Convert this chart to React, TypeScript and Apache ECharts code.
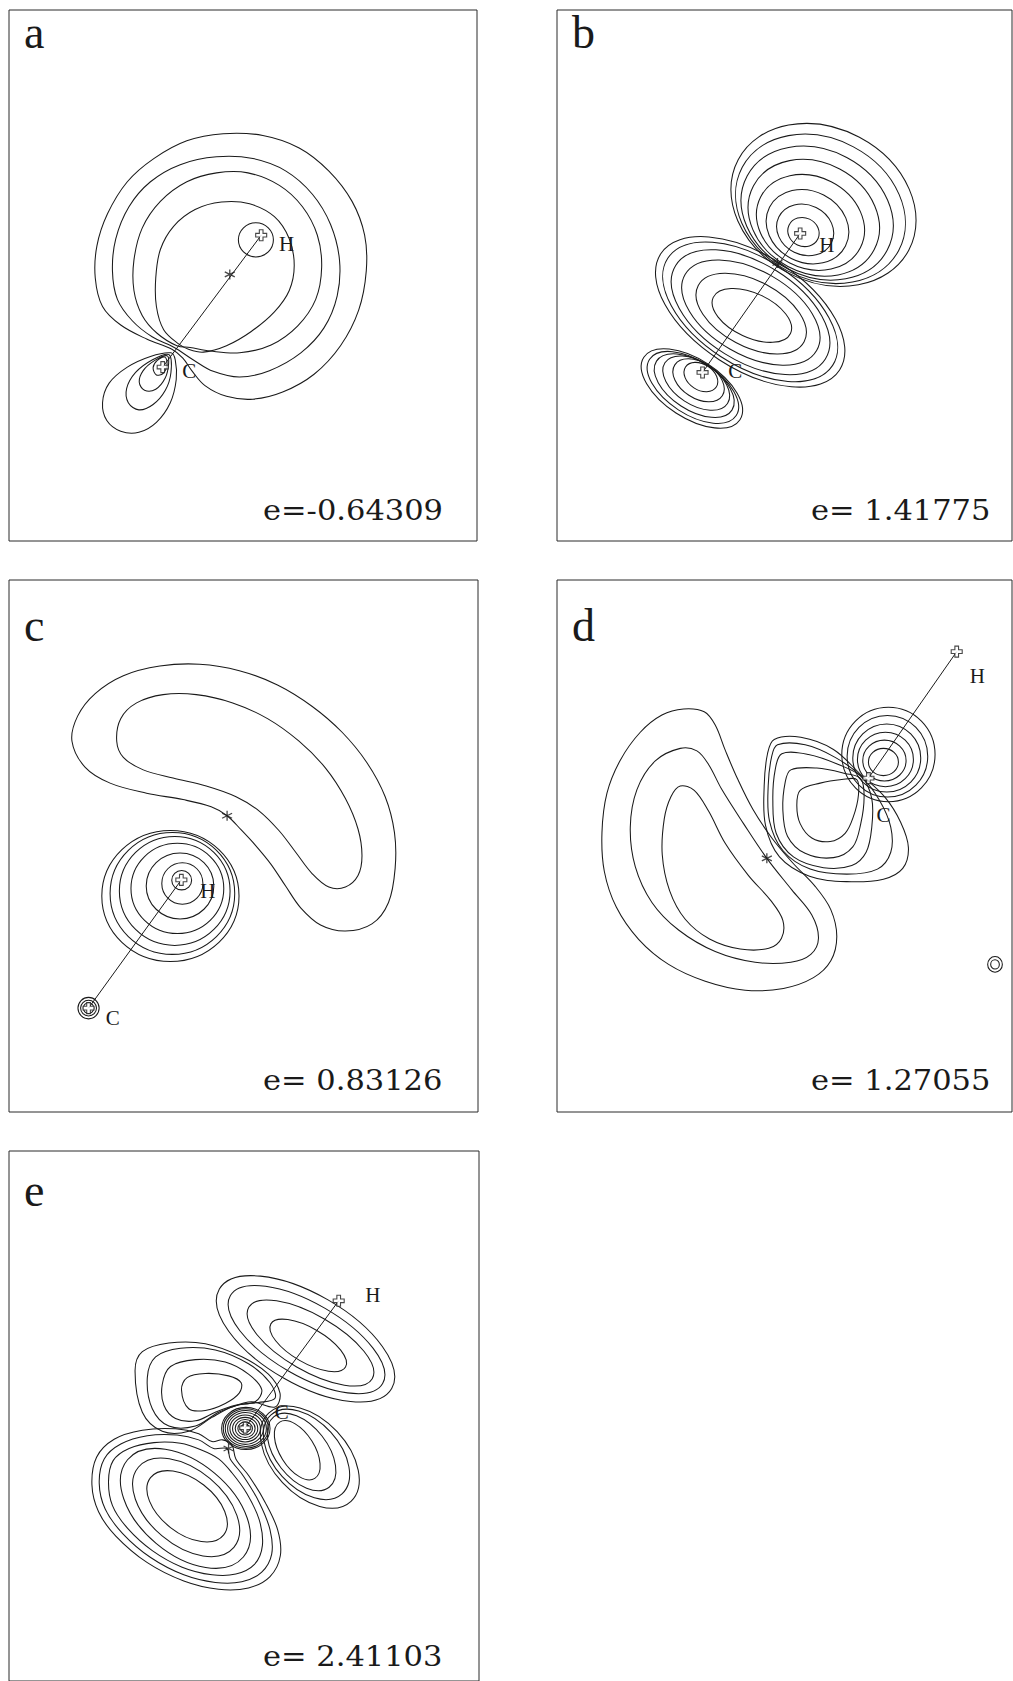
import React, { useEffect, useRef } from "react";
import * as echarts from "echarts";

type Pt = [number, number];
// cx, cy, rx, ry, tilt in degrees (clockwise on screen)
type Ring = [number, number, number, number, number];
type Label = [number, number, string];

const INK = "#1a1a1a";

const panelLetters = ["a", "b", "c", "d", "e"];
const orbitalEnergies = ["-0.64309", "1.41775", "0.83126", "1.27055", "2.41103"];

// ---------------- orbital a ----------------
const aCurves: Pt[][] = [
  [[515, 980], [440, 952], [360, 912], [305, 860], [283, 780], [288, 690], [320, 600], [380, 510], [460, 445], [560, 395], [670, 375], [790, 380], [900, 415], [990, 480], [1060, 565], [1098, 660], [1103, 760], [1080, 870], [1025, 970], [945, 1050], [850, 1100], [760, 1120], [680, 1112], [615, 1082], [575, 1040], [548, 1005]],
  [[522, 975], [455, 945], [395, 900], [350, 840], [335, 760], [345, 670], [385, 580], [450, 510], [540, 462], [650, 440], [760, 445], [860, 480], [940, 545], [995, 630], [1022, 730], [1015, 830], [975, 920], [905, 990], [810, 1040], [720, 1058], [640, 1042], [580, 1010]],
  [[530, 970], [470, 935], [425, 885], [400, 815], [400, 730], [425, 640], [480, 565], [560, 510], [650, 485], [745, 485], [840, 520], [910, 580], [955, 660], [968, 750], [950, 840], [895, 915], [815, 968], [720, 990], [630, 985], [570, 975]],
  [[535, 965], [490, 925], [468, 860], [466, 780], [480, 700], [520, 635], [585, 588], [665, 567], [750, 572], [825, 608], [870, 670], [885, 745], [870, 815], [825, 875], [755, 930], [680, 970], [610, 988], [565, 980]],
  [[512, 990], [450, 1000], [380, 1030], [325, 1075], [305, 1130], [318, 1180], [360, 1210], [415, 1213], [468, 1185], [510, 1130], [528, 1065], [525, 1010]],
  [[506, 995], [455, 1010], [405, 1045], [378, 1090], [383, 1130], [415, 1150], [458, 1135], [495, 1095], [512, 1045]],
  [[500, 998], [462, 1012], [428, 1040], [416, 1072], [432, 1095], [466, 1092], [495, 1060], [505, 1020]],
  [[494, 1002], [470, 1012], [458, 1032], [468, 1052], [488, 1048], [500, 1025]],
];
const aRings: Ring[] = [[769, 673, 53, 48, 0]];
const aAtoms: Pt[] = [[785, 660], [487, 1030]];
const aStar: Pt[] = [[690, 770]];
const aLabels: Label[] = [[862, 685, "H"], [567, 1040, "C"]];

// ---------------- orbital b ----------------
const bCurves: Pt[][] = [];
const bRings: Ring[] = [
  // lobe around H
  [790, 651, 48, 40, 25], [795, 645, 88, 70, 26], [802, 636, 128, 100, 27], [811, 624, 168, 128, 27],
  [821, 611, 205, 155, 28], [831, 598, 238, 177, 28], [841, 586, 266, 197, 28], [850, 575, 290, 215, 28],
  // lobe across the bond
  [635, 885, 128, 62, 25], [633, 880, 180, 92, 28], [632, 877, 228, 118, 30], [631, 876, 265, 137, 32],
  [630, 875, 295, 150, 33], [630, 875, 320, 160, 33],
  // lobe behind C
  [482, 1058, 55, 36, 33], [475, 1067, 85, 50, 33], [468, 1075, 112, 60, 33], [462, 1082, 135, 68, 33],
  [458, 1087, 155, 75, 33], [455, 1090, 172, 82, 33],
];
const bAtoms: Pt[] = [[780, 655], [487, 1045]];
const bStar: Pt[] = [[712, 738]];
const bLabels: Label[] = [[860, 688, "H"], [585, 1040, "C"]];

// ---------------- orbital c ----------------
const cCurves: Pt[][] = [
  [[215, 495], [232, 425], [285, 362], [370, 312], [480, 285], [600, 280], [720, 298], [835, 338], [940, 398], [1030, 470], [1105, 555], [1160, 650], [1188, 750], [1190, 850], [1170, 945], [1120, 1005], [1040, 1025], [965, 1008], [905, 960], [860, 900], [815, 838], [768, 785], [725, 742], [683, 703], [635, 678], [550, 658], [440, 640], [330, 612], [255, 568]],
  [[350, 495], [362, 432], [410, 388], [490, 365], [590, 365], [700, 388], [805, 432], [900, 495], [980, 570], [1040, 655], [1078, 740], [1090, 815], [1078, 870], [1040, 902], [990, 902], [940, 865], [890, 805], [840, 745], [780, 690], [710, 650], [620, 620], [520, 598], [430, 575], [370, 540]],
];
const cRings: Ring[] = [
  [546, 883, 30, 27, 0], [548, 892, 62, 58, 0], [541, 899, 102, 92, 0], [533, 906, 140, 126, 0],
  [525, 913, 167, 152, 0], [518, 920, 188, 170, 0], [512, 927, 207, 183, 0],
  [265, 1240, 32, 30, 0], [265, 1240, 24, 22, 0], [265, 1240, 16, 15, 0],
];
const cAtoms: Pt[] = [[545, 882], [265, 1240]];
const cStar: Pt[] = [[683, 703]];
const cLabels: Label[] = [[625, 912, "H"], [338, 1268, "C"]];

// ---------------- orbital d ----------------
const dCurves: Pt[][] = [
  [[430, 405], [492, 413], [525, 450], [555, 520], [592, 600], [638, 685], [695, 765], [758, 835], [825, 900], [872, 965], [890, 1040], [872, 1108], [820, 1155], [730, 1185], [615, 1190], [495, 1165], [385, 1118], [295, 1048], [228, 958], [192, 858], [185, 750], [200, 640], [240, 548], [300, 470], [365, 422]],
  [[420, 515], [470, 522], [505, 560], [545, 630], [610, 725], [680, 822], [755, 910], [815, 980], [835, 1045], [812, 1090], [752, 1112], [645, 1112], [525, 1082], [415, 1022], [335, 945], [285, 845], [270, 735], [290, 630], [345, 550]],
  [[420, 620], [462, 632], [505, 690], [555, 780], [625, 870], [692, 940], [728, 995], [724, 1045], [686, 1073], [600, 1075], [508, 1047], [435, 992], [388, 912], [366, 812], [372, 712], [392, 650]],
  [[780, 632], [840, 612], [905, 602], [950, 602], [955, 645], [940, 705], [915, 752], [870, 775], [815, 765], [780, 725], [770, 675]],
  [[752, 575], [830, 570], [915, 585], [962, 600], [972, 650], [962, 725], [938, 790], [880, 820], [795, 808], [742, 760], [728, 685], [735, 610]],
  [[725, 530], [805, 532], [895, 560], [965, 595], [995, 655], [995, 735], [978, 805], [935, 842], [850, 848], [760, 818], [708, 752], [698, 660], [705, 575]],
  [[712, 505], [795, 505], [885, 540], [962, 592], [1018, 660], [1052, 735], [1052, 805], [1012, 852], [920, 866], [810, 852], [728, 800], [688, 718], [684, 620], [694, 540]],
  [[702, 490], [782, 484], [880, 518], [962, 588], [1035, 652], [1082, 722], [1105, 792], [1088, 850], [1030, 880], [920, 887], [808, 872], [718, 818], [676, 730], [672, 620], [682, 530]],
];
const dRings: Ring[] = [
  [1030, 553, 45, 38, 0], [1033, 549, 65, 57, 0], [1036, 546, 84, 76, 0], [1040, 542, 102, 95, 0],
  [1042, 537, 121, 114, 0], [1045, 532, 140, 132, 0],
  [1365, 1118, 22, 22, 0], [1365, 1118, 13, 13, 0],
];
const dAtoms: Pt[] = [[1250, 245], [985, 598]];
const dStar: Pt[] = [[680, 822]];
const dLabels: Label[] = [[1312, 312, "H"], [1030, 700, "C"]];

// ---------------- orbital e ----------------
const eCurves: Pt[][] = [
  [[548, 735], [565, 700], [620, 688], [690, 695], [728, 715], [722, 745], [680, 775], [620, 795], [570, 790]],
  [[490, 720], [515, 668], [590, 648], [680, 655], [750, 690], [790, 735], [770, 770], [710, 780], [650, 800], [590, 825], [530, 818], [495, 780]],
  [[445, 700], [470, 640], [545, 615], [650, 620], [750, 660], [815, 715], [830, 760], [780, 772], [725, 778], [660, 800], [590, 840], [510, 840], [460, 790]],
  [[408, 680], [430, 625], [510, 600], [620, 602], [730, 640], [810, 690], [845, 745], [830, 785], [760, 770], [700, 785], [640, 815], [570, 855], [490, 855], [430, 800]],
  [[328, 1000], [342, 940], [390, 905], [465, 888], [545, 890], [610, 910], [660, 935], [700, 975], [745, 1035], [782, 1110], [792, 1185], [768, 1240], [712, 1268], [640, 1270], [550, 1248], [460, 1200], [385, 1135], [340, 1070]],
  [[300, 1005], [315, 935], [365, 892], [445, 868], [535, 866], [600, 880], [645, 905], [685, 905], [695, 935], [735, 985], [782, 1060], [815, 1140], [820, 1210], [790, 1262], [730, 1290], [650, 1292], [555, 1270], [455, 1220], [370, 1150], [318, 1080]],
  [[278, 1010], [292, 930], [345, 878], [430, 852], [530, 848], [600, 862], [640, 885], [672, 880], [700, 895], [712, 935], [752, 985], [800, 1060], [838, 1140], [846, 1215], [815, 1275], [750, 1308], [660, 1312], [555, 1288], [445, 1235], [350, 1158], [298, 1088]],
];
const eRings: Ring[] = [
  // lobe along the bond towards H
  [930, 607, 130, 50, 30], [937, 600, 215, 80, 30], [925, 590, 265, 105, 30], [922, 588, 300, 130, 30],
  // large lobe below C
  [565, 1072, 140, 78, 38], [562, 1075, 188, 108, 40], [560, 1078, 228, 132, 40],
  // lobe right of C
  [897, 910, 100, 50, 58], [910, 915, 135, 75, 52], [925, 922, 160, 95, 48], [935, 930, 182, 108, 47],
  // core shells around C
  [740, 847, 14, 12, 0], [740, 847, 22, 19, 0], [740, 847, 30, 26, 0], [740, 847, 38, 32, 0],
  [740, 847, 46, 39, 0], [741, 847, 54, 46, 0], [742, 847, 62, 52, 0], [742, 847, 68, 57, 0], [742, 847, 73, 61, 0],
];
const eAtoms: Pt[] = [[1022, 478], [740, 845]];
const eStar: Pt[] = [[690, 905]];
const eLabels: Label[] = [[1125, 462, "H"], [850, 800, "C"]];

// ---------------- layout ----------------
// frame of each panel on the page (px)
const FRAMES = [
  { left: 9, top: 10, width: 468, height: 531 },
  { left: 557, top: 10, width: 455, height: 531 },
  { left: 9, top: 580, width: 469, height: 532 },
  { left: 557, top: 580, width: 455, height: 532 },
  { left: 9, top: 1151, width: 470, height: 533 },
];
// plane coordinates spanned by each frame: [xMin, xMax, yMin, yMax]
const EXTENTS = [
  [22, 1438, 28, 1518],
  [50, 1416, 28, 1518],
  [25, 1440, 45, 1530],
  [50, 1416, 45, 1530],
  [28, 1445, 45, 1577],
];
const LETTER_DY = [22, 22, 45, 45, 39];
const ENERGY_DY = [501, 501, 501, 501, 506];

const PANELS = [
  { curves: aCurves, rings: aRings, atoms: aAtoms, star: aStar, labels: aLabels },
  { curves: bCurves, rings: bRings, atoms: bAtoms, star: bStar, labels: bLabels },
  { curves: cCurves, rings: cRings, atoms: cAtoms, star: cStar, labels: cLabels },
  { curves: dCurves, rings: dRings, atoms: dAtoms, star: dStar, labels: dLabels },
  { curves: eCurves, rings: eRings, atoms: eAtoms, star: eStar, labels: eLabels },
];

const ATOM_SYMBOL = "path://M3,0H6V3H9V6H6V9H3V6H0V3H3Z";
const STAR_SYMBOL = "path://M5,0V10M0.7,2.5L9.3,7.5M0.7,7.5L9.3,2.5";

const lineStyle = { fill: "none", stroke: INK, lineWidth: 1.05 };

function panelSeries(p: any, gi: number): any[] {
  const axes = { xAxisIndex: gi, yAxisIndex: gi };
  return [
    {
      type: "custom",
      ...axes,
      silent: true,
      data: p.curves.map((c: Pt[]) => c[0]),
      renderItem: (params: any, api: any) => {
        const pts = p.curves[params.dataIndex].map((q: Pt) => api.coord(q));
        return { type: "polygon", shape: { points: pts, smooth: 0.35 }, style: lineStyle };
      },
    },
    {
      type: "custom",
      ...axes,
      silent: true,
      data: p.rings.map((r: Ring) => [r[0], r[1]]),
      renderItem: (params: any, api: any) => {
        const [cx, cy, rx, ry, tilt] = p.rings[params.dataIndex];
        const c = api.coord([cx, cy]);
        const s = api.size([rx, ry], [cx, cy]);
        return {
          type: "ellipse",
          x: c[0],
          y: c[1],
          rotation: (-tilt * Math.PI) / 180,
          shape: { cx: 0, cy: 0, rx: Math.abs(s[0]), ry: Math.abs(s[1]) },
          style: lineStyle,
        };
      },
    },
    {
      type: "line",
      ...axes,
      silent: true,
      data: p.atoms,
      symbol: "none",
      lineStyle: { color: INK, width: 1 },
      z: 3,
    },
    {
      type: "scatter",
      ...axes,
      silent: true,
      data: p.star,
      symbol: STAR_SYMBOL,
      symbolSize: 10,
      itemStyle: { color: "rgba(0,0,0,0)", borderColor: INK, borderWidth: 1.3 },
      z: 4,
    },
    {
      type: "scatter",
      ...axes,
      silent: true,
      data: p.atoms,
      symbol: ATOM_SYMBOL,
      symbolSize: 11,
      itemStyle: { color: "#ffffff", borderColor: INK, borderWidth: 1.1 },
      z: 5,
    },
    {
      type: "custom",
      ...axes,
      silent: true,
      data: p.labels.map((l: Label) => [l[0], l[1]]),
      renderItem: (params: any, api: any) => {
        const [x, y, text] = p.labels[params.dataIndex];
        const c = api.coord([x, y]);
        return {
          type: "text",
          x: c[0],
          y: c[1],
          style: {
            text,
            fill: INK,
            font: '21px "Liberation Serif"',
            textAlign: "center",
            textVerticalAlign: "middle",
            align: "center",
            verticalAlign: "middle",
          },
        };
      },
      z: 6,
    },
  ];
}

function energyText(v: string): string {
  return v.startsWith("-") ? `e=${v}` : `e= ${v}`;
}

export default function App() {
  const ref = useRef<HTMLDivElement>(null);

  useEffect(() => {
    if (!ref.current) return;
    const chart = echarts.init(ref.current, undefined, { renderer: "svg" });

    const graphic: any[] = [];
    FRAMES.forEach((f, i) => {
      graphic.push({
        type: "text",
        x: f.left + 15,
        y: f.top + LETTER_DY[i],
        style: {
          text: panelLetters[i],
          font: '46px "Liberation Serif"',
          fill: INK,
          textVerticalAlign: "middle",
          verticalAlign: "middle",
        },
      });
      graphic.push({
        type: "text",
        x: f.left + 254,
        y: f.top + ENERGY_DY[i],
        scaleX: 1.13,
        style: {
          text: energyText(orbitalEnergies[i]),
          font: '27px "DejaVu Serif"',
          fill: INK,
          textVerticalAlign: "middle",
          verticalAlign: "middle",
        },
      });
    });

    chart.setOption({
      animation: false,
      backgroundColor: "#ffffff",
      grid: FRAMES.map((f) => ({
        left: f.left,
        top: f.top,
        width: f.width,
        height: f.height,
        show: true,
        borderColor: "#2a2a2a",
        borderWidth: 1,
        backgroundColor: "transparent",
      })),
      xAxis: EXTENTS.map((e, i) => ({ type: "value", gridIndex: i, min: e[0], max: e[1], show: false })),
      yAxis: EXTENTS.map((e, i) => ({ type: "value", gridIndex: i, min: e[2], max: e[3], inverse: true, show: false })),
      series: PANELS.flatMap((p, i) => panelSeries(p, i)),
      graphic,
    });

    return () => chart.dispose();
  }, []);

  return (
    <div
      ref={ref}
      style={{ position: "absolute", left: 0, top: 0, width: 1013, height: 1681, background: "#ffffff" }}
    />
  );
}
